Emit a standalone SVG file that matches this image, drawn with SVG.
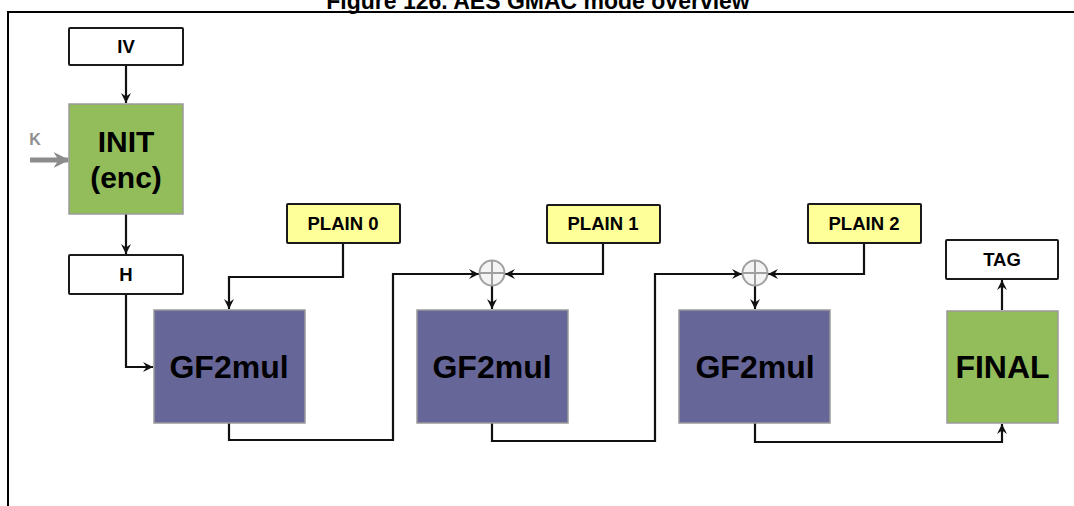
<svg xmlns="http://www.w3.org/2000/svg" width="1074" height="506" viewBox="0 0 1074 506">
<style>
  text { font-family: "Liberation Sans", Arial, sans-serif; font-weight: bold; text-anchor: middle; fill: #000; }
  .wbox { fill: #fff; stroke: #1a1a1a; stroke-width: 2; }
  .ybox { fill: #ffff99; stroke: #1a1a1a; stroke-width: 2; }
  .gbox { fill: #93bd5b; stroke: #9a9a9a; stroke-width: 1.5; }
  .pbox { fill: #666699; stroke: #9a9a9a; stroke-width: 1.5; }
  .small { font-size: 18.5px; }
  .big { font-size: 32px; }
  .conn { fill: none; stroke: #111; stroke-width: 2.2; marker-end: url(#ah); }
  .xor { fill: #f4f4f4; stroke: #a0a0a0; stroke-width: 2; }
  .xorx { stroke: #a0a0a0; stroke-width: 2; }
</style>
<defs>
  <marker id="ah" markerUnits="userSpaceOnUse" viewBox="0 0 10 10" refX="10" refY="5" markerWidth="10" markerHeight="10" orient="auto">
    <path d="M0,0 L10,5 L0,10 L3.5,5 z" fill="#111"/>
  </marker>
  <marker id="ahg" markerUnits="userSpaceOnUse" viewBox="0 0 10 10" refX="9" refY="5" markerWidth="16" markerHeight="19" orient="auto">
    <path d="M0,0 L10,5 L0,10 L3,5 z" fill="#8c8c8c"/>
  </marker>
</defs>

<rect width="1074" height="506" fill="#fff"/>
<text x="538" y="9" style="font-size:23px">Figure 126. AES GMAC mode overview</text>
<path d="M8 506 V12 H1074" fill="none" stroke="#000" stroke-width="2"/>

<g id="connectors">
  <path class="conn" d="M126 65 V103"/>
  <path class="conn" d="M126 214 V254"/>
  <path class="conn" d="M126 294 V367 H153"/>
  <path class="conn" d="M343 243 V277 H229 V309"/>
  <path class="conn" d="M229 423 V440 H393 V274 H479"/>
  <path class="conn" d="M603 243 V274 H505"/>
  <path class="conn" d="M492 286 V309"/>
  <path class="conn" d="M492 423 V441 H655 V274 H742"/>
  <path class="conn" d="M864 243 V274 H768"/>
  <path class="conn" d="M755 286 V309"/>
  <path class="conn" d="M755 423 V442 H1002 V424"/>
  <path class="conn" d="M1002 310 V280"/>
  <path d="M30 160 H68" fill="none" stroke="#8c8c8c" stroke-width="5" marker-end="url(#ahg)"/>
</g>

<g id="node-k">
  <text x="35" y="145" style="font-size:16px;fill:#8f8f8f">K</text>
</g>
<g id="node-iv">
  <rect class="wbox" x="69" y="28" width="114" height="37" rx="1"/>
  <text class="small" x="126" y="53">IV</text>
</g>
<g id="node-init">
  <rect class="gbox" x="69" y="104" width="114" height="110"/>
  <text x="126" y="152" style="font-size:30px">INIT</text>
  <text x="126" y="188" style="font-size:30px">(enc)</text>
</g>
<g id="node-h">
  <rect class="wbox" x="69" y="255" width="114" height="39" rx="1"/>
  <text class="small" x="126" y="281">H</text>
</g>
<g id="node-plain0">
  <rect class="ybox" x="287" y="204" width="113" height="39" rx="1"/>
  <text class="small" x="343" y="230">PLAIN 0</text>
</g>
<g id="node-plain1">
  <rect class="ybox" x="547" y="205" width="113" height="38" rx="1"/>
  <text class="small" x="603" y="230">PLAIN 1</text>
</g>
<g id="node-plain2">
  <rect class="ybox" x="808" y="204" width="113" height="39" rx="1"/>
  <text class="small" x="864" y="230">PLAIN 2</text>
</g>
<g id="node-tag">
  <rect class="wbox" x="946" y="240" width="112" height="39" rx="1"/>
  <text class="small" x="1002" y="266">TAG</text>
</g>
<g id="node-xor1">
  <circle class="xor" cx="492" cy="273" r="12.5"/>
  <path class="xorx" d="M479.5 273 H504.5 M492 260.5 V285.5"/>
</g>
<g id="node-xor2">
  <circle class="xor" cx="755" cy="273" r="12.5"/>
  <path class="xorx" d="M742.5 273 H767.5 M755 260.5 V285.5"/>
</g>
<g id="node-gf1">
  <rect class="pbox" x="154" y="310" width="151" height="113"/>
  <text class="big" x="229" y="378">GF2mul</text>
</g>
<g id="node-gf2">
  <rect class="pbox" x="417" y="310" width="151" height="113"/>
  <text class="big" x="492" y="378">GF2mul</text>
</g>
<g id="node-gf3">
  <rect class="pbox" x="679" y="310" width="151" height="113"/>
  <text class="big" x="755" y="378">GF2mul</text>
</g>
<g id="node-final">
  <rect class="gbox" x="947" y="311" width="111" height="112"/>
  <text class="big" x="1002.5" y="378">FINAL</text>
</g>
</svg>
